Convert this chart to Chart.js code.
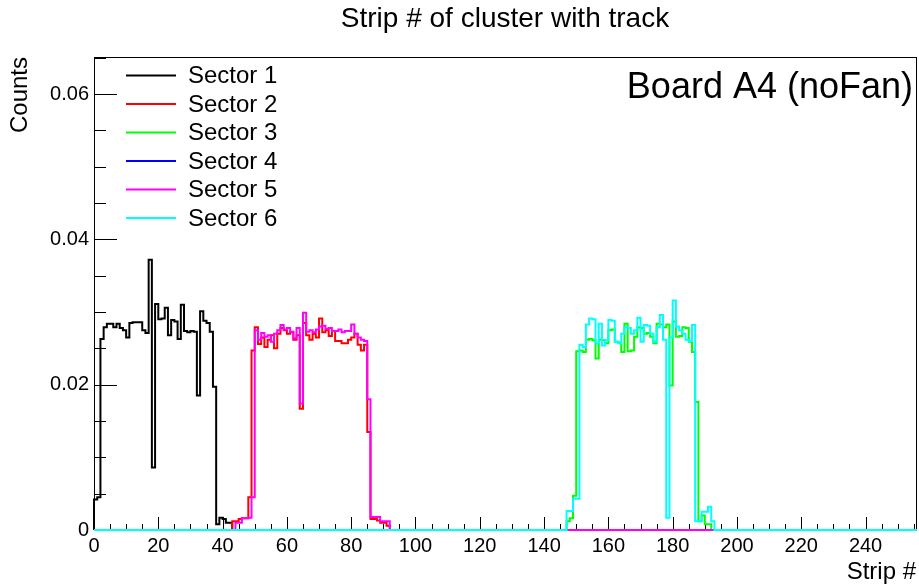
<!DOCTYPE html>
<html>
<head>
<meta charset="utf-8">
<title>Strip # of cluster with track</title>
<script src="https://cdn.jsdelivr.net/npm/chart.js@4.4.1/dist/chart.umd.min.js"></script>
<style>
  html, body { margin: 0; padding: 0; background: #fff; }
  #wrap { width: 919px; height: 584px; position: relative; }
</style>
</head>
<body>
<div id="wrap"><canvas id="graph"></canvas></div>
<script>
// histogram: 256 strips, bin width 1, values only where a sector has hits
const nBins = 256;
const sectorNames = ['Sector 1', 'Sector 2', 'Sector 3', 'Sector 4', 'Sector 5', 'Sector 6'];
const sectorColors = ['#000000', '#ff0000', '#00ff00', '#0000ff', '#ff00ff', '#00ffff'];

// first filled bin of each sector
const sector1Start = 0;
const sector2Start = 43;
const sector3Start = 147;
const sector4Start = 0;
const sector5Start = 44;
const sector6Start = 147;

const sector1 = [0.0042, 0.0045, 0.0263, 0.0279, 0.0284, 0.0284, 0.0279, 0.0284, 0.0278, 0.0275,
  0.0265, 0.0285, 0.0286, 0.0286, 0.0286, 0.0275, 0.0271, 0.0372, 0.0086, 0.0311,
  0.0290, 0.0291, 0.0306, 0.0268, 0.0289, 0.0287, 0.0263, 0.0310, 0.0274, 0.0272,
  0.0274, 0.0273, 0.0185, 0.0301, 0.0288, 0.0285, 0.0273, 0.0197, 0.0008, 0.0017,
  0.0015, 0.0010, 0.0010];
const sector2 = [0.0012, 0.0012, 0.0015, 0.0016, 0.0016, 0.0045, 0.0247, 0.0279, 0.0256, 0.0265,
  0.0252, 0.0262, 0.0268, 0.0250, 0.0270, 0.0278, 0.0275, 0.0270, 0.0272, 0.0262,
  0.0268, 0.0167, 0.0285, 0.0268, 0.0262, 0.0270, 0.0265, 0.0291, 0.0272, 0.0275,
  0.0267, 0.0274, 0.0260, 0.0260, 0.0257, 0.0257, 0.0262, 0.0265, 0.0270, 0.0255,
  0.0247, 0.0255, 0.0135, 0.0015, 0.0015, 0.0013, 0.0010, 0.0010, 0.0006];
const sector3 = [0.0012, 0.0016, 0.0047, 0.0246, 0.0247, 0.0245, 0.0262, 0.0263, 0.0261, 0.0236,
  0.0262, 0.0261, 0.0257, 0.0275, 0.0276, 0.0259, 0.0258, 0.0245, 0.0284, 0.0246,
  0.0247, 0.0266, 0.0279, 0.0278, 0.0270, 0.0271, 0.0266, 0.0257, 0.0284, 0.0283,
  0.0279, 0.0283, 0.0199, 0.0287, 0.0266, 0.0267, 0.0279, 0.0278, 0.0259, 0.0245,
  0.0176, 0.0012, 0.0020, 0.0008, 0.0008];
const sector4 = [0];
const sector5 = [0.0010, 0.0010, 0.0016, 0.0016, 0.0017, 0.0045, 0.0275, 0.0262, 0.0271, 0.0266,
  0.0268, 0.0259, 0.0270, 0.0275, 0.0282, 0.0276, 0.0278, 0.0273, 0.0264, 0.0278,
  0.0174, 0.0299, 0.0273, 0.0275, 0.0272, 0.0276, 0.0280, 0.0281, 0.0277, 0.0278,
  0.0274, 0.0274, 0.0276, 0.0272, 0.0274, 0.0274, 0.0283, 0.0270, 0.0265, 0.0262,
  0.0260, 0.0180, 0.0018, 0.0018, 0.0018, 0.0012, 0.0012, 0.0012];
const sector6 = [0.0026, 0.0026, 0.0043, 0.0043, 0.0255, 0.0252, 0.0283, 0.0291, 0.0290, 0.0257,
  0.0284, 0.0254, 0.0261, 0.0289, 0.0288, 0.0259, 0.0257, 0.0270, 0.0279, 0.0278,
  0.0270, 0.0275, 0.0292, 0.0259, 0.0282, 0.0281, 0.0270, 0.0259, 0.0279, 0.0296,
  0.0262, 0.0017, 0.0265, 0.0316, 0.0280, 0.0275, 0.0270, 0.0262, 0.0260, 0.0282,
  0.0012, 0.0012, 0.0025, 0.0025, 0.0032, 0.0012];

const xTicks = [0, 20, 40, 60, 80, 100, 120, 140, 160, 180, 200, 220, 240];
const yTicks = [0, 0.02, 0.04, 0.06];
const yMax = 0.0651;

// fill the 256 bins and turn them into step points (left edge of each bin)
function histPoints(start, vals) {
  var bins = new Array(nBins).fill(0);
  for (var i = 0; i < vals.length; i++) bins[start + i] = vals[i];
  var pts = [{ x: 0, y: 0 }];
  for (var b = 0; b < nBins; b++) pts.push({ x: b, y: bins[b] });
  pts.push({ x: nBins, y: bins[nBins - 1] });
  return pts;
}

const starts = [sector1Start, sector2Start, sector3Start, sector4Start, sector5Start, sector6Start];
const values = [sector1, sector2, sector3, sector4, sector5, sector6];

var datasets = [];
for (var s = 0; s < 6; s++) {
  datasets.push({
    label: sectorNames[s],
    data: histPoints(starts[s], values[s]),
    borderColor: sectorColors[s],
    backgroundColor: sectorColors[s],
    borderWidth: 2,
    pointRadius: 0,
    stepped: 'before',
    fill: false,
    clip: 3,
    order: 6 - s
  });
}

Chart.defaults.font.family = '"Liberation Sans", Arial, sans-serif';
Chart.defaults.color = '#000';

// frame + ROOT style ticks under the histograms, texts on top
const rootDeco = {
  id: 'rootDeco',
  beforeDatasetsDraw(chart) {
    const ctx = chart.ctx;
    const a = chart.chartArea;
    const xs = chart.scales.x, ys = chart.scales.y;
    ctx.save();
    ctx.strokeStyle = '#000';
    ctx.lineWidth = 1;
    ctx.strokeRect(a.left + 0.5, a.top + 0.5, a.right - a.left - 1, a.bottom - a.top);

    ctx.beginPath();
    for (var v = 0; v <= nBins; v += 5) {
      var px = Math.round(xs.getPixelForValue(v)) + 0.5;
      var len = (v % 20 === 0) ? 13 : 6;
      ctx.moveTo(px, a.bottom);
      ctx.lineTo(px, a.bottom - len);
    }
    for (var k = 0; k * 0.005 <= yMax; k++) {
      var py = Math.round(ys.getPixelForValue(k * 0.005)) + 0.5;
      var l2 = (k % 4 === 0) ? 23 : 12;
      ctx.moveTo(a.left, py);
      ctx.lineTo(a.left + l2, py);
    }
    ctx.stroke();
    ctx.restore();
  },
  afterDraw(chart) {
    const ctx = chart.ctx;
    ctx.save();
    // legend
    ctx.font = '24px "Liberation Sans", Arial, sans-serif';
    ctx.textBaseline = 'middle';
    ctx.textAlign = 'left';
    chart.data.datasets.forEach(function (d, i) {
      var y = 75.5 + i * 28.5;
      ctx.strokeStyle = d.borderColor;
      ctx.lineWidth = 2;
      ctx.beginPath();
      ctx.moveTo(126, y);
      ctx.lineTo(176, y);
      ctx.stroke();
      ctx.fillStyle = '#000';
      ctx.fillText(d.label, 188, y + 1);
    });

    ctx.fillStyle = '#000';
    ctx.textAlign = 'right';
    ctx.font = '36px "Liberation Sans", Arial, sans-serif';
    ctx.fillText('Board A4 (noFan)', 913, 88);

    ctx.font = '24px "Liberation Sans", Arial, sans-serif';
    ctx.fillText('Strip #', 916, 572);

    ctx.save();
    ctx.translate(20, 57);
    ctx.rotate(-Math.PI / 2);
    ctx.textAlign = 'right';
    ctx.fillText('Counts', 0, 0);
    ctx.restore();

    ctx.textAlign = 'center';
    ctx.font = '28px "Liberation Sans", Arial, sans-serif';
    ctx.fillText('Strip # of cluster with track', 505, 19);
    ctx.restore();
  }
};

new Chart(document.getElementById('graph'), {
  type: 'line',
  data: { datasets: datasets },
  options: {
    responsive: true,
    maintainAspectRatio: false,
    animation: false,
    layout: { padding: { top: 57, right: 2, left: 0, bottom: 0 } },
    plugins: { legend: { display: false }, tooltip: { enabled: false }, title: { display: false } },
    scales: {
      x: {
        type: 'linear', min: 0, max: nBins,
        grid: { display: false, drawTicks: false, tickLength: 0 }, border: { display: false },
        afterBuildTicks: function (s) { s.ticks = xTicks.map(function (v) { return { value: v }; }); },
        afterFit: function (s) { s.height = 54; },
        ticks: { font: { size: 20 }, padding: 4, maxRotation: 0, autoSkip: false, color: '#000',
                 callback: function (v) { return String(v); } }
      },
      y: {
        type: 'linear', min: 0, max: yMax,
        grid: { display: false, drawTicks: false, tickLength: 0 }, border: { display: false },
        afterBuildTicks: function (s) { s.ticks = yTicks.map(function (v) { return { value: v }; }); },
        afterFit: function (s) { s.width = 94; },
        ticks: { font: { size: 20 }, padding: 5, color: '#000',
                 callback: function (v) { return v === 0 ? '0' : v.toFixed(2); } }
      }
    }
  },
  plugins: [rootDeco]
});
</script>
</body>
</html>
